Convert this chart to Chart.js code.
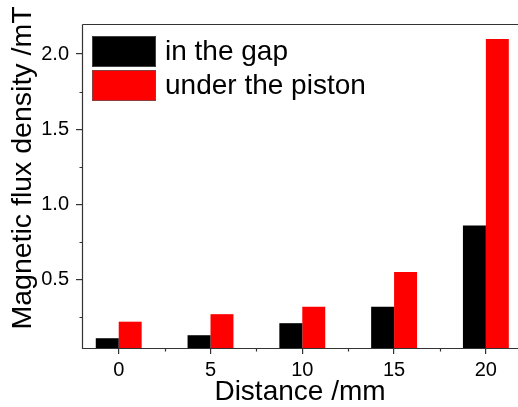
<!DOCTYPE html>
<html><head><meta charset="utf-8">
<script src="https://cdn.jsdelivr.net/npm/chart.js@4.4.1/dist/chart.umd.min.js"></script>
<style>
html,body{margin:0;padding:0;background:#fff;overflow:hidden;width:518px;height:407px}
#wrap{position:absolute;left:0;top:0;width:518px;height:407px}
</style></head>
<body><div id="wrap"><canvas id="c"></canvas></div>
<script>
const distances = [0, 5, 10, 15, 20];
const inTheGap = [0.11, 0.13, 0.21, 0.32, 0.86];
const underThePiston = [0.22, 0.27, 0.32, 0.55, 2.10];
const seriesNames = ['in the gap', 'under the piston'];
const seriesColors = ['#000000', '#ff0000'];
const xTicks = [0, 5, 10, 15, 20];
const xMinorTicks = [2.5, 7.5, 12.5, 17.5];
const yTicks = [0.5, 1.0, 1.5, 2.0];
const yMinorTicks = [0.25, 0.75, 1.25, 1.75];
const xTitle = 'Distance /mm';
const yTitle = 'Magnetic flux density /mT';

const FONT = '"Liberation Sans", Arial, sans-serif';

const framePlugin = {
  id: 'frame',
  afterDraw(chart) {
    const {ctx, chartArea: a, scales} = chart;
    ctx.save();
    ctx.strokeStyle = '#333';
    ctx.lineWidth = 1.2;
    const L = Math.round(a.left) + 0.5, T = Math.round(a.top) + 0.5, B = Math.round(a.bottom) + 0.5;
    ctx.beginPath();
    ctx.moveTo(L, T); ctx.lineTo(chart.width + 5, T);
    ctx.moveTo(L, T); ctx.lineTo(L, B); ctx.lineTo(chart.width + 5, B);
    ctx.stroke();
    ctx.beginPath();
    xMinorTicks.forEach(v => {
      const px = Math.round(scales.x.getPixelForValue(v)) + 0.5;
      ctx.moveTo(px, B); ctx.lineTo(px, B + 3);
    });
    yMinorTicks.forEach(v => {
      const py = Math.round(scales.y.getPixelForValue(v)) + 0.5;
      ctx.moveTo(L, py); ctx.lineTo(L - 3, py);
    });
    ctx.stroke();
    ctx.fillStyle = '#000';
    ctx.font = '28.5px ' + FONT;
    ctx.textAlign = 'center';
    ctx.textBaseline = 'middle';
    ctx.translate(23.5, (a.top + a.bottom) / 2 - 18);
    ctx.rotate(-Math.PI / 2);
    ctx.fillText(yTitle, 0, 0);
    ctx.restore();
    ctx.save();
    const lx = a.left + 10, ly = a.top + 12;
    const bw = 64, bh = 31, gap = 34;
    chart.data.datasets.forEach((ds, i) => {
      const y = ly + i * gap;
      ctx.fillStyle = ds.backgroundColor;
      ctx.fillRect(lx, y, bw, bh);
      ctx.strokeStyle = 'rgba(90,90,90,0.7)';
      ctx.lineWidth = 1;
      ctx.strokeRect(lx + 0.5, y + 0.5, bw - 1, bh - 1);
      ctx.fillStyle = '#000';
      ctx.font = '28px ' + FONT;
      ctx.textAlign = 'left';
      ctx.textBaseline = 'middle';
      ctx.fillText(ds.label, lx + bw + 9, y + bh / 2 + 1);
    });
    ctx.restore();
  }
};

new Chart(document.getElementById('c'), {
  type: 'bar',
  data: {
    datasets: [
      { label: seriesNames[0], data: distances.map((d, i) => ({x: d, y: inTheGap[i]})),
        backgroundColor: seriesColors[0], borderWidth: 0 },
      { label: seriesNames[1], data: distances.map((d, i) => ({x: d, y: underThePiston[i]})),
        backgroundColor: seriesColors[1], borderWidth: 0 }
    ]
  },
  options: {
    responsive: true,
    maintainAspectRatio: false,
    animation: false,
    devicePixelRatio: 1,
    layout: { padding: { top: 24, right: 0, left: 0, bottom: 0 } },
    datasets: { bar: { categoryPercentage: 0.5, barPercentage: 1.0 } },
    plugins: { legend: { display: false }, tooltip: { enabled: false } },
    scales: {
      x: {
        type: 'linear', min: -2, max: 21.75, offset: false,
        afterBuildTicks: s => { s.ticks = xTicks.map(v => ({value: v})); },
        afterFit: s => { s.height = 59; },
        border: { display: false },
        grid: { offset: false, drawOnChartArea: false, drawTicks: true, tickLength: 6, color: '#333', lineWidth: 1.2 },
        ticks: { color: '#000', font: { family: FONT, size: 20 }, padding: 4, maxRotation: 0,
                 callback: v => String(v) },
        title: { display: true, text: xTitle, color: '#000', font: { family: FONT, size: 28, lineHeight: 1 },
                 padding: { top: 0, bottom: 1 } }
      },
      y: {
        type: 'linear', min: 0.045, max: 2.2, beginAtZero: false,
        afterBuildTicks: s => { s.ticks = yTicks.map(v => ({value: v})); },
        afterFit: s => { s.width = 82; },
        border: { display: false },
        grid: { drawOnChartArea: false, drawTicks: true, tickLength: 6, color: '#333', lineWidth: 1.2 },
        ticks: { color: '#000', font: { family: FONT, size: 20 }, padding: 7,
                 callback: v => Number(v).toFixed(1) }
      }
    }
  },
  plugins: [framePlugin]
});
</script>
</body></html>
